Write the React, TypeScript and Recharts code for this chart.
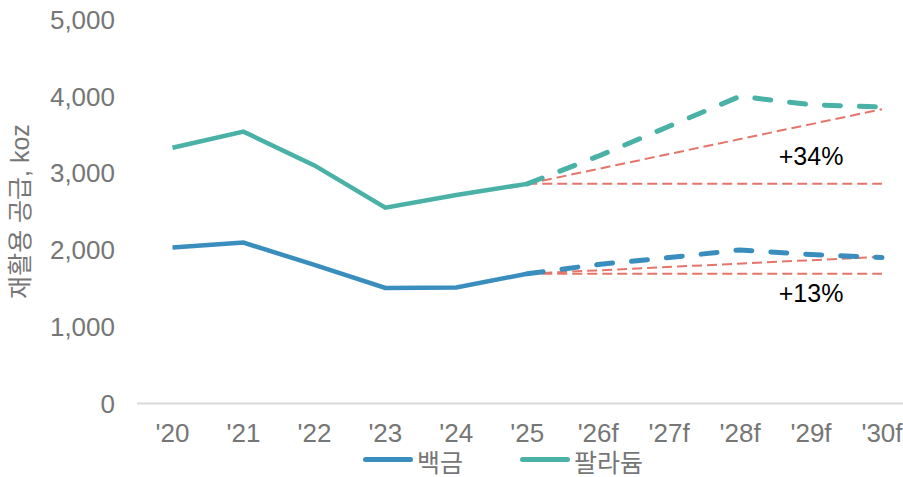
import { LineChart, Line, XAxis, YAxis, Legend, ReferenceDot } from "recharts";

// 재활용 공급 (koz), 실적 '20~'25, 전망 '26f~'30f
const years = ["'20", "'21", "'22", "'23", "'24", "'25", "'26f", "'27f", "'28f", "'29f", "'30f"];
const platinumActual = [2030, 2095, 1805, 1505, 1510, 1690, null, null, null, null, null];
const platinumForecast = [null, null, null, null, null, 1690, 1810, 1900, 2000, 1940, 1900];
const palladiumActual = [3330, 3540, 3100, 2550, 2715, 2860, null, null, null, null, null];
const palladiumForecast = [null, null, null, null, null, 2860, 3220, 3610, 4000, 3890, 3860];

// '25 대비 '30f 증가율 (%)
const platinumGrowth = 13;
const palladiumGrowth = 34;

const yTicks = [0, 1000, 2000, 3000, 4000, 5000];

const PLATINUM = "#3A8EBE";
const PALLADIUM = "#4AB1A7";
const TREND = "#E5756A";
const GRAY = "#767676";

const baseIdx = years.indexOf("'25");
const lastIdx = years.length - 1;

const trendPair = (actual: (number | null)[], growth: number) => {
  const base = actual[baseIdx] as number;
  const flat = years.map((_, i) => (i === baseIdx || i === lastIdx ? base : null));
  const grown = years.map((_, i) =>
    i === baseIdx ? base : i === lastIdx ? Math.round(base * (1 + growth / 100)) : null
  );
  return { flat, grown };
};

const ptTrend = trendPair(platinumActual, platinumGrowth);
const pdTrend = trendPair(palladiumActual, palladiumGrowth);

const data = years.map((year, i) => ({
  year,
  ptActual: platinumActual[i],
  ptForecast: platinumForecast[i],
  pdActual: palladiumActual[i],
  pdForecast: palladiumForecast[i],
  ptFlat: ptTrend.flat[i],
  ptGrown: ptTrend.grown[i],
  pdFlat: pdTrend.flat[i],
  pdGrown: pdTrend.grown[i],
}));

const legendItems = [
  { name: "백금", color: PLATINUM },
  { name: "팔라듐", color: PALLADIUM },
];

function ChartLegend() {
  return (
    <div style={{ height: 28, display: "flex", alignItems: "center", paddingLeft: 363, color: GRAY, fontSize: 25 }}>
      {legendItems.map((item, i) => (
        <div key={item.name} style={{ display: "flex", alignItems: "center", marginLeft: i === 0 ? 0 : 57 }}>
          <span
            style={{
              display: "inline-block",
              width: 50,
              height: 5,
              borderRadius: 3,
              background: item.color,
              marginRight: 4,
              position: "relative",
              top: -3,
            }}
          />
          <span style={{ lineHeight: "28px" }}>{item.name}</span>
        </div>
      ))}
    </div>
  );
}

export default function App() {
  const font = "'Liberation Sans', Arial, 'Noto Sans CJK KR', sans-serif";
  return (
    <div
      style={{
        position: "absolute",
        left: 0,
        top: 0,
        width: 903,
        height: 477,
        overflow: "hidden",
        background: "#fff",
        fontFamily: font,
      }}
    >
      <LineChart width={920} height={477} data={data} margin={{ top: 19.5, right: 2.5, bottom: 0, left: 0 }}>
        <XAxis
          dataKey="year"
          padding={{ left: 35.5, right: 35.5 }}
          axisLine={{ stroke: "#D9D9D9", strokeWidth: 2 }}
          tickLine={false}
          tickSize={0}
          tickMargin={20}
          height={45}
          interval={0}
          tick={{ fill: GRAY, fontSize: 26, fontFamily: font }}
        />
        <YAxis
          domain={[0, 5000]}
          ticks={yTicks}
          width={137}
          axisLine={false}
          tickLine={false}
          tickSize={0}
          tickMargin={22}
          tickFormatter={(v: number) => v.toLocaleString("en-US")}
          tick={{ fill: GRAY, fontSize: 26, fontFamily: font }}
          label={{
            value: "재활용 공급, koz",
            angle: -90,
            position: "insideLeft",
            offset: 20,
            fill: GRAY,
            fontSize: 25,
            fontFamily: font,
            style: { textAnchor: "middle" },
          }}
        />
        <Legend
          verticalAlign="bottom"
          height={28.5}
          wrapperStyle={{ left: 0, width: 903, height: 28.5 }}
          content={() => <ChartLegend />}
        />

        {/* 추세 비교선 */}
        <Line dataKey="pdFlat" stroke={TREND} strokeWidth={2} strokeDasharray="10 5" dot={false} activeDot={false} connectNulls isAnimationActive={false} />
        <Line dataKey="pdGrown" stroke={TREND} strokeWidth={2} strokeDasharray="10 5" dot={false} activeDot={false} connectNulls isAnimationActive={false} />
        <Line dataKey="ptFlat" stroke={TREND} strokeWidth={2} strokeDasharray="10 5" dot={false} activeDot={false} connectNulls isAnimationActive={false} />
        <Line dataKey="ptGrown" stroke={TREND} strokeWidth={2} strokeDasharray="10 5" dot={false} activeDot={false} connectNulls isAnimationActive={false} />

        <Line dataKey="ptActual" name="백금" stroke={PLATINUM} strokeWidth={4.5} dot={false} activeDot={false} isAnimationActive={false} />
        <Line dataKey="ptForecast" stroke={PLATINUM} strokeWidth={5} strokeDasharray="16 19" strokeLinecap="round" dot={false} activeDot={false} isAnimationActive={false} />
        <Line dataKey="pdActual" name="팔라듐" stroke={PALLADIUM} strokeWidth={4.5} dot={false} activeDot={false} isAnimationActive={false} />
        <Line dataKey="pdForecast" stroke={PALLADIUM} strokeWidth={5} strokeDasharray="16 19" strokeLinecap="round" dot={false} activeDot={false} isAnimationActive={false} />

        <ReferenceDot
          x="'29f"
          y={3220}
          r={0}
          stroke="none"
          label={{ value: `+${palladiumGrowth}%`, position: "center", fill: "#000", fontSize: 25, fontFamily: font }}
        />
        <ReferenceDot
          x="'29f"
          y={1440}
          r={0}
          stroke="none"
          label={{ value: `+${platinumGrowth}%`, position: "center", fill: "#000", fontSize: 25, fontFamily: font }}
        />
      </LineChart>
    </div>
  );
}
